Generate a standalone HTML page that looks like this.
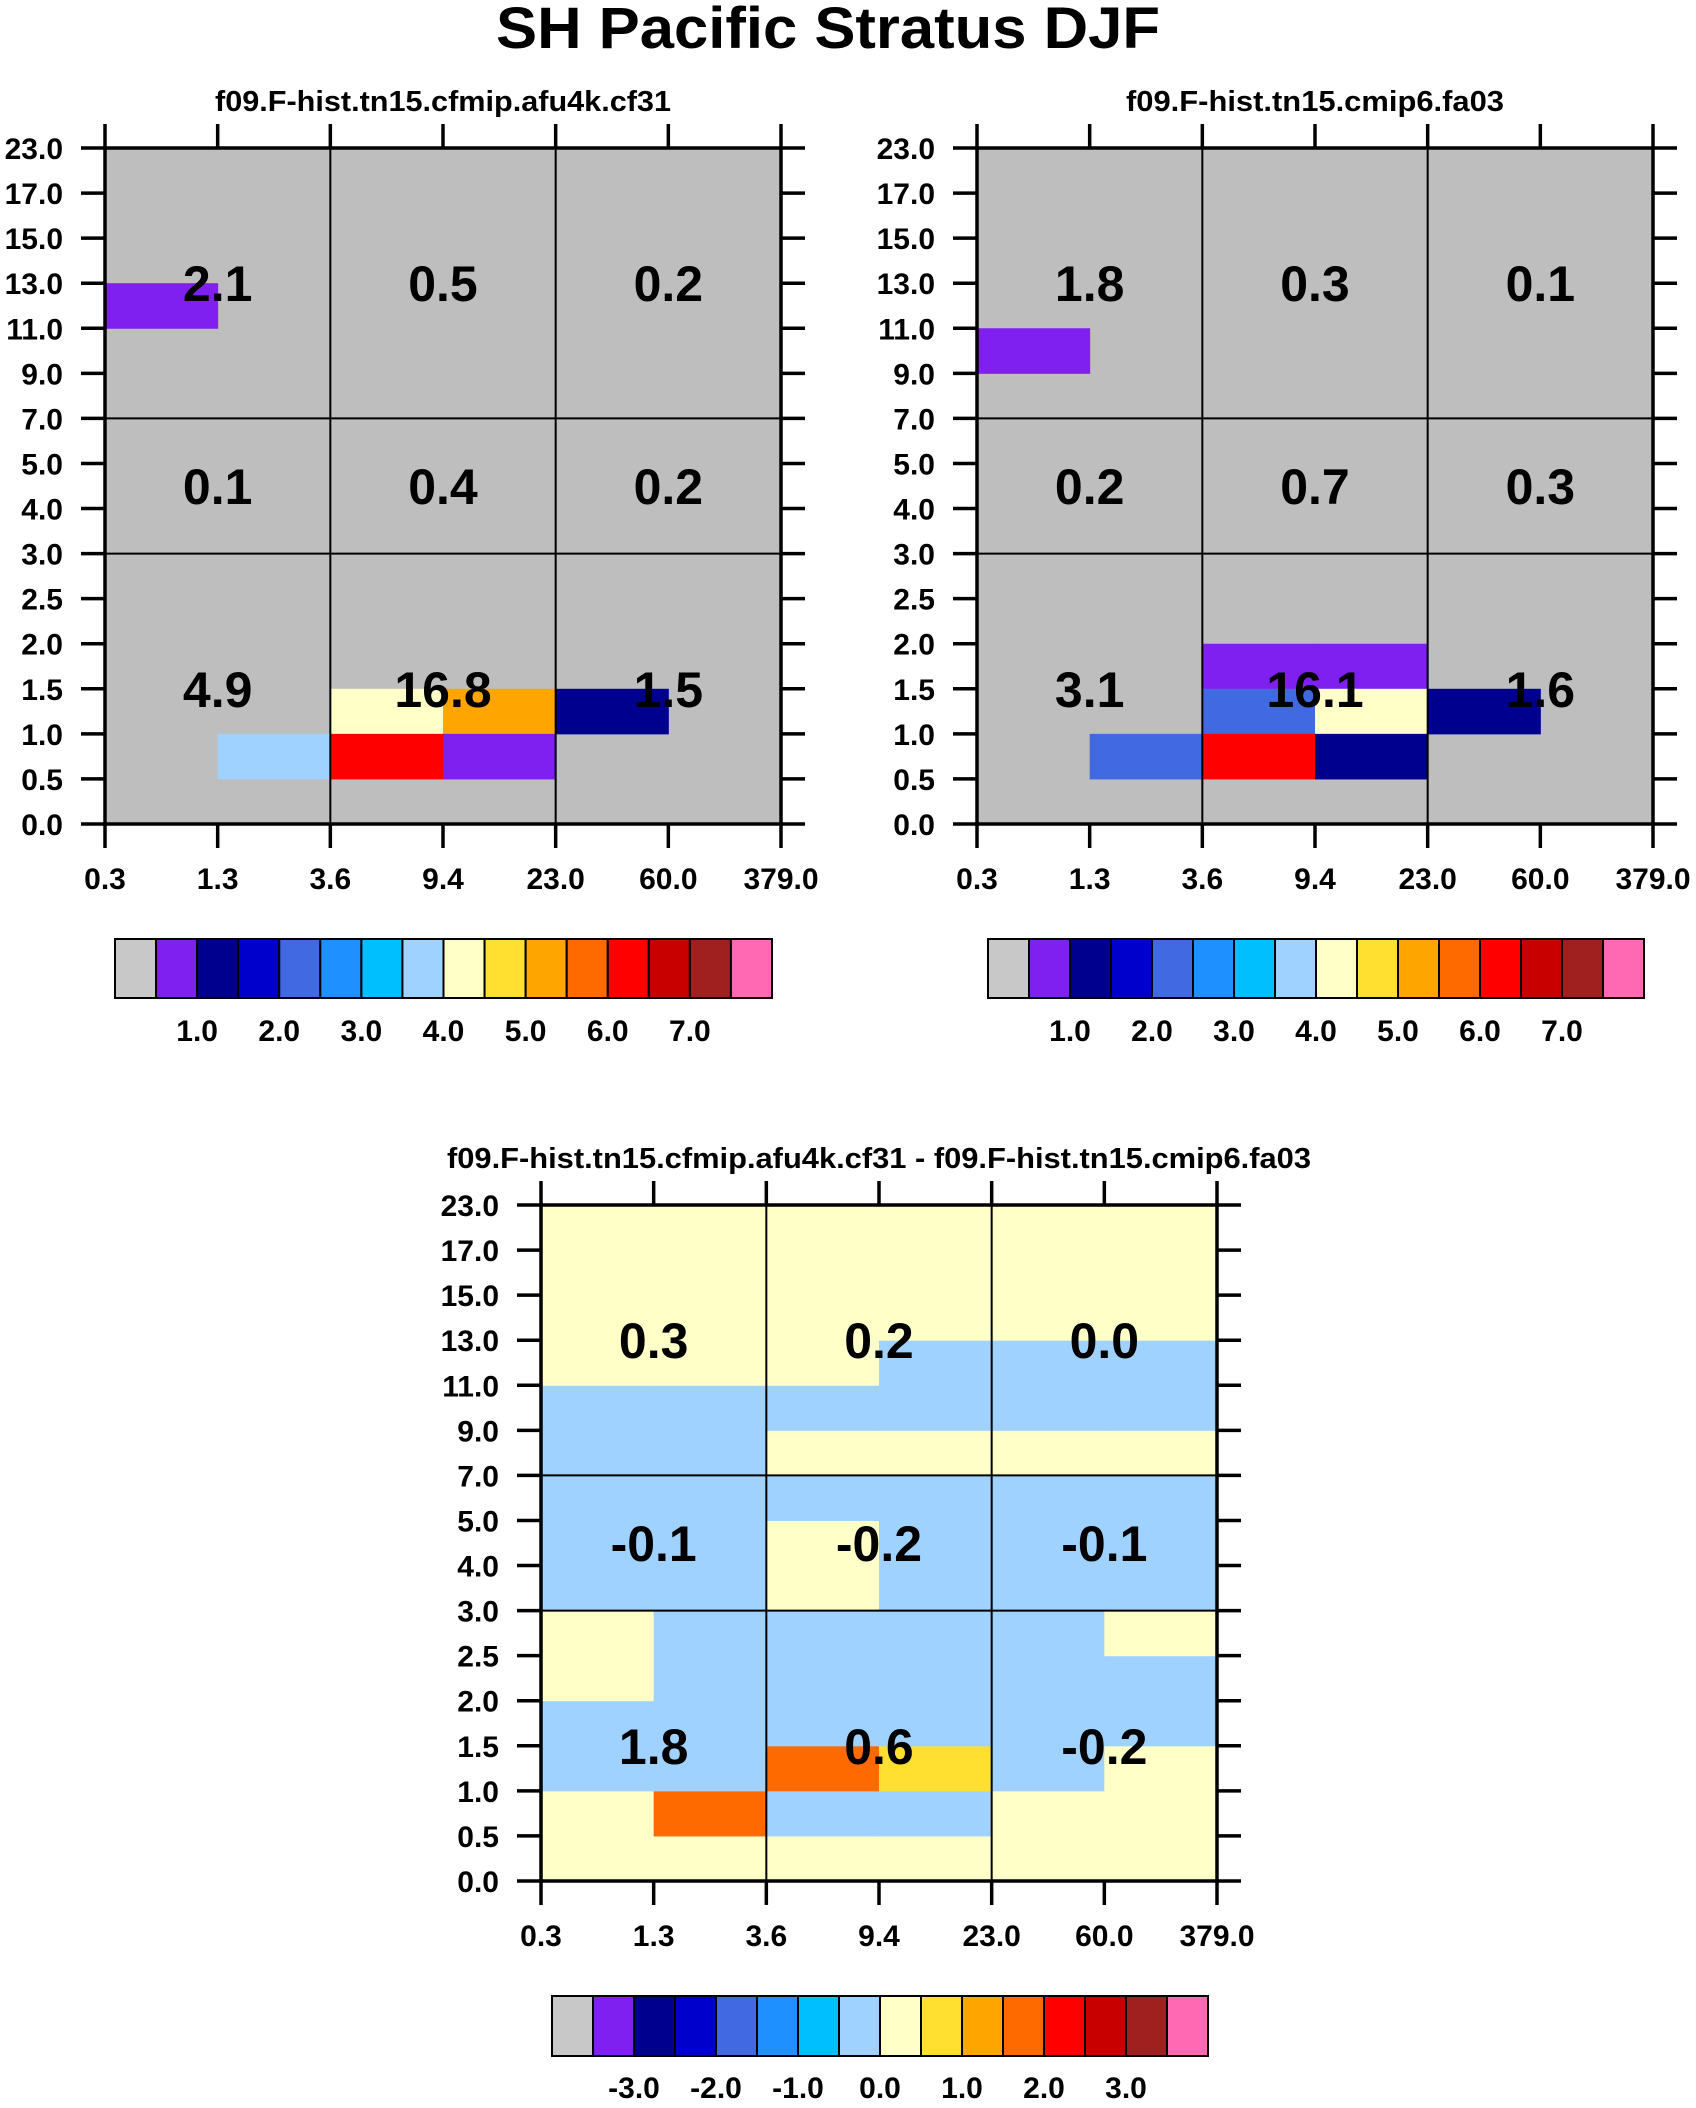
<!DOCTYPE html>
<html><head><meta charset="utf-8"><style>
html,body{margin:0;padding:0;background:#fff;}
svg text{font-family:"Liberation Sans",Arial,sans-serif;font-weight:bold;fill:#000;}
</style></head><body>
<svg id="fig" width="1696" height="2103" viewBox="0 0 1696 2103" xmlns="http://www.w3.org/2000/svg">
<text x="828" y="48" font-size="58" text-anchor="middle" textLength="664" lengthAdjust="spacingAndGlyphs">SH Pacific Stratus DJF</text>
</svg>
<script>
const xTickLabels = ["0.3","1.3","3.6","9.4","23.0","60.0","379.0"];
const yTickLabels = ["0.0","0.5","1.0","1.5","2.0","2.5","3.0","4.0","5.0","7.0","9.0","11.0","13.0","15.0","17.0","23.0"];
const palette = ["#c8c8c8","#8020f0","#00008f","#0000cd","#4169e1","#1e90ff","#00bfff","#a0d2ff","#ffffc8","#ffe030","#ffa500","#ff6a00","#ff0000","#c80000","#a02020","#ff69b4"];
const cbLabelsAbs = ["1.0","2.0","3.0","4.0","5.0","6.0","7.0"];
const cbLabelsDiff = ["-3.0","-2.0","-1.0","0.0","1.0","2.0","3.0"];
// non-background cells: [col, row(from bottom), value]
const cells1 = [[0,11,0.8],[2,2,4.2],[3,2,5.2],[4,2,1.2],[1,1,3.8],[2,1,6.2],[3,1,0.8]];
const cells2 = [[0,10,0.8],[2,3,0.8],[3,3,0.8],[2,2,2.2],[3,2,4.2],[4,2,1.2],[1,1,2.2],[2,1,6.2],[3,1,1.2]];
// diff plot: rows bottom->top, 6 columns each
const diffRows = [
 [0.2,0.2,0.2,0.2,0.2,0.2],
 [0.2,1.7,-0.2,-0.2,0.2,0.2],
 [-0.2,-0.2,1.7,0.7,-0.2,0.2],
 [-0.2,-0.2,-0.2,-0.2,-0.2,-0.2],
 [0.2,-0.2,-0.2,-0.2,-0.2,-0.2],
 [0.2,-0.2,-0.2,-0.2,-0.2,0.2],
 [-0.2,-0.2,0.2,-0.2,-0.2,-0.2],
 [-0.2,-0.2,0.2,-0.2,-0.2,-0.2],
 [-0.2,-0.2,-0.2,-0.2,-0.2,-0.2],
 [-0.2,-0.2,0.2,0.2,0.2,0.2],
 [-0.2,-0.2,-0.2,-0.2,-0.2,-0.2],
 [0.2,0.2,0.2,-0.2,-0.2,-0.2],
 [0.2,0.2,0.2,0.2,0.2,0.2],
 [0.2,0.2,0.2,0.2,0.2,0.2],
 [0.2,0.2,0.2,0.2,0.2,0.2]];
const sums1 = ["4.9","16.8","1.5","0.1","0.4","0.2","2.1","0.5","0.2"];
const sums2 = ["3.1","16.1","1.6","0.2","0.7","0.3","1.8","0.3","0.1"];
const sums3 = ["1.8","0.6","-0.2","-0.1","-0.2","-0.1","0.3","0.2","0.0"];

const NS="http://www.w3.org/2000/svg";
const svg=document.getElementById('fig');
function mk(tag,attrs,parent){const e=document.createElementNS(NS,tag);for(const k in attrs)e.setAttribute(k,attrs[k]);(parent||svg).appendChild(e);return e;}
function colorIndex(v,lo){let i=Math.floor((v-lo)/0.5);return Math.max(0,Math.min(15,i));}

function panel(name,L,R,T,B,title,titleLen,cellList,bg,lo,sums){
  const g=mk('g',{});
  
  
  const nx=xTickLabels.length-1, ny=yTickLabels.length-1;
  const xs=c=>L+(R-L)*c/nx, ys=r=>B-(B-T)*r/ny;
  const bgr=mk('rect',{x:L,y:T,width:R-L,height:B-T,fill:bg},g);
  
  
  cellList.forEach(([c,r,v])=>{
    const rc=mk('rect',{x:xs(c),y:ys(r+1),width:xs(c+1)-xs(c)+0.5,height:ys(r)-ys(r+1)+0.5,fill:palette[colorIndex(v,lo)]},g);
    
    
  });
  [2,4].forEach(c=>mk('line',{x1:xs(c),x2:xs(c),y1:T,y2:B,stroke:'#000','stroke-width':2},g));
  [6,9].forEach(r=>mk('line',{x1:L,x2:R,y1:ys(r),y2:ys(r),stroke:'#000','stroke-width':2},g));
  const colC=[1,3,5], rowC=[3,7.5,12];
  sums.forEach((s,i)=>{
    const t=mk('text',{x:xs(colC[i%3]),y:ys(rowC[Math.floor(i/3)])+18,'font-size':50,'text-anchor':'middle'},g);
    t.textContent=s;
    
    
  });
  mk('rect',{x:L,y:T,width:R-L,height:B-T,fill:'none',stroke:'#000','stroke-width':3.5},g);
  const tl=24;
  xTickLabels.forEach((lab,i)=>{
    const x=xs(i);
    mk('line',{x1:x,x2:x,y1:B,y2:B+tl,stroke:'#000','stroke-width':3.5},g);
    mk('line',{x1:x,x2:x,y1:T,y2:T-tl,stroke:'#000','stroke-width':3.5},g);
    const t=mk('text',{x:x,y:B+65,'font-size':30,'text-anchor':'middle'},g);
    t.textContent=lab;
    
    
  });
  yTickLabels.forEach((lab,i)=>{
    const y=ys(i);
    mk('line',{x1:L-tl,x2:L,y1:y,y2:y,stroke:'#000','stroke-width':3.5},g);
    mk('line',{x1:R,x2:R+tl,y1:y,y2:y,stroke:'#000','stroke-width':3.5},g);
    const t=mk('text',{x:L-42,y:y+11,'font-size':30,'text-anchor':'end'},g);
    t.textContent=lab;
    
    
  });
  const tt=mk('text',{x:(L+R)/2,y:T-37,'font-size':29,'text-anchor':'middle',textLength:titleLen,lengthAdjust:'spacingAndGlyphs'},g);
  tt.textContent=title;
  
  
}
function colorbar(name,L,R,T,B,labels,ly){
  const g=mk('g',{});
  
  
  const w=(R-L)/palette.length;
  palette.forEach((c,i)=>{
    const r=mk('rect',{x:L+i*w,y:T,width:w,height:B-T,fill:c,stroke:'#000','stroke-width':2},g);
    
    
  });
  labels.forEach((lab,k)=>{
    const t=mk('text',{x:L+(2*(k+1))*w,y:ly,'font-size':30,'text-anchor':'middle'},g);
    t.textContent=lab;
    
    
  });
}
const diffCells=[];
diffRows.forEach((row,r)=>row.forEach((v,c)=>diffCells.push([c,r,v])));
panel('panel-cfmip',105,781,148,824,'f09.F-hist.tn15.cfmip.afu4k.cf31',456,cells1,'#bebebe',0.0,sums1);
panel('panel-cmip6',977,1653,148,824,'f09.F-hist.tn15.cmip6.fa03',378,cells2,'#bebebe',0.0,sums2);
panel('panel-diff',541,1217,1205,1881,'f09.F-hist.tn15.cfmip.afu4k.cf31 - f09.F-hist.tn15.cmip6.fa03',864,diffCells,'#ffffc8',-4.0,sums3);
colorbar('colorbar-cfmip',115,772,939,998,cbLabelsAbs,1041);
colorbar('colorbar-cmip6',988,1644,939,998,cbLabelsAbs,1041);
colorbar('colorbar-diff',552,1208,1996,2056,cbLabelsDiff,2098);
</script>
</body></html>
